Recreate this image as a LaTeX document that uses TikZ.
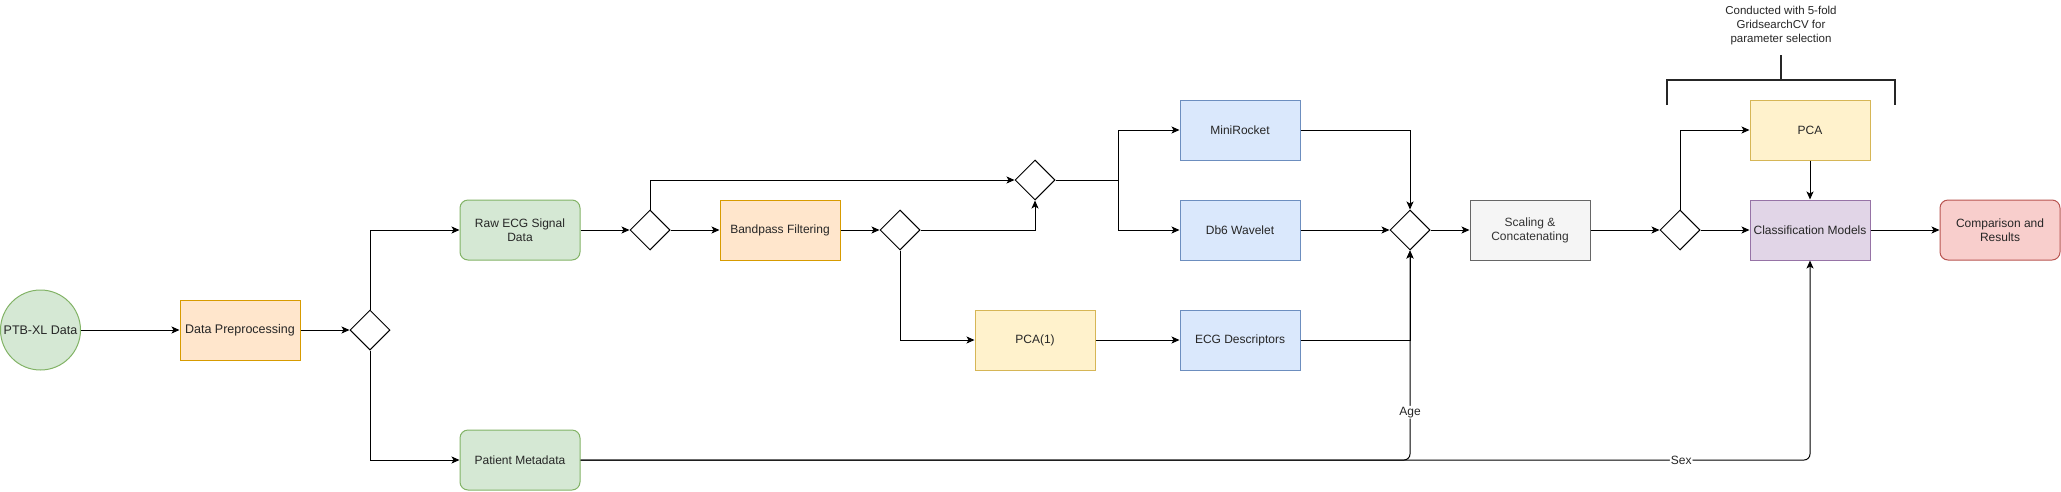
\documentclass[tikz,border=0pt]{standalone}
\usepackage{fontspec}
\setmainfont{Liberation Sans}
\usetikzlibrary{shapes.geometric,arrows.meta,calc}
\definecolor{gfill}{HTML}{D5E8D4}\definecolor{gline}{HTML}{82B366}
\definecolor{ofill}{HTML}{FFE6CC}\definecolor{oline}{HTML}{D79B00}
\definecolor{bfill}{HTML}{DAE8FC}\definecolor{bline}{HTML}{6C8EBF}
\definecolor{yfill}{HTML}{FFF2CC}\definecolor{yline}{HTML}{D6B656}
\definecolor{kfill}{HTML}{F5F5F5}\definecolor{kline}{HTML}{666666}\definecolor{ktext}{HTML}{333333}
\definecolor{pfill}{HTML}{E1D5E7}\definecolor{pline}{HTML}{9673A6}
\definecolor{rfill}{HTML}{F8CECC}\definecolor{rline}{HTML}{B85450}
\begin{document}
\begin{tikzpicture}[x=1pt,y=-1pt,
  txt/.style={font=\fontsize{12}{14}\selectfont, text=black!85},
  box/.style={txt, draw, line width=1pt, minimum width=120pt, minimum height=60pt, inner sep=2pt, align=center},
  rbox/.style={box, rounded corners=8pt},
  green/.style={fill=gfill, draw=gline},
  orange/.style={fill=ofill, draw=oline},
  blue/.style={fill=bfill, draw=bline},
  yellow/.style={fill=yfill, draw=yline},
  grey/.style={fill=kfill, draw=kline, text=ktext},
  purple/.style={fill=pfill, draw=pline},
  red/.style={fill=rfill, draw=rline},
  gate/.style={diamond, draw, fill=white, line width=1pt, minimum width=40pt, minimum height=40pt, inner sep=0pt, aspect=1},
  conn/.style={line width=1pt, -{Stealth[length=8pt,width=7pt,inset=2pt]}},
  lbl/.style={txt, fill=white, inner sep=1pt}
]
\useasboundingbox (0,0) rectangle (2061,491);

% nodes
\node[txt, circle, draw=gline, fill=gfill, line width=1pt, minimum size=80pt, inner sep=0pt, font=\fontsize{12.5}{14}\selectfont] (ptb) at (40.5,330) {PTB-XL Data};
\node[box, orange, font=\fontsize{12.5}{14}\selectfont] (prep) at (240,330) {Data Preprocessing};
\node[gate] (d1) at (370,330) {};
\node[rbox, green] (raw) at (520,230) {Raw ECG Signal\\Data};
\node[rbox, green] (meta) at (520,460) {Patient Metadata};
\node[gate] (d2) at (650,230) {};
\node[box, orange] (band) at (780,230) {Bandpass Filtering};
\node[gate] (d3) at (900,230) {};
\node[gate] (d4) at (1035,180) {};
\node[box, yellow] (pca1) at (1035,340) {PCA(1)};
\node[box, blue] (mini) at (1240,130) {MiniRocket};
\node[box, blue] (db6) at (1240,230) {Db6 Wavelet};
\node[box, blue] (desc) at (1240,340) {ECG Descriptors};
\node[gate] (d5) at (1410,230) {};
\node[box, grey] (scale) at (1530,230) {Scaling \&\\Concatenating};
\node[gate] (d6) at (1680,230) {};
\node[box, yellow] (pca) at (1810,130) {PCA};
\node[box, purple] (cls) at (1810,230) {Classification Models};
\node[rbox, red] (comp) at (2000,230) {Comparison and\\Results};
\node[txt, align=center, font=\fontsize{11.5}{14}\selectfont] (note) at (1781,26) {Conducted with 5-fold\\GridsearchCV for\\parameter selection};
\coordinate (br) at (1118,180);

% connectors
\draw[conn] (ptb) -- (prep);
\draw[conn] (prep) -- (d1);
\draw[conn] (d1.north) |- (raw.west);
\draw[conn] (d1.south) |- (meta.west);
\draw[conn] (raw) -- (d2);
\draw[conn] (d2) -- (band);
\draw[conn] (d2.north) |- (d4.west);
\draw[conn] (band) -- (d3);
\draw[conn] (d3.east) -| (d4.south);
\draw[conn] (d3.south) |- (pca1.west);
\draw[line width=1pt] (d4.east) -- (br);
\draw[conn] (br) |- (mini.west);
\draw[conn] (br) |- (db6.west);
\draw[conn] (pca1) -- (desc);
\draw[conn] (mini.east) -| (d5.north);
\draw[conn] (db6) -- (d5);
\draw[conn] (desc.east) -| (d5.south);
\draw[conn, rounded corners=6pt] (meta.east) -| node[lbl, pos=0.614] {Age} (d5.south);
\draw[conn, rounded corners=6pt] (meta.east) -| node[lbl, pos=0.4476] {Sex} (cls.south);
\draw[conn] (d5) -- (scale);
\draw[conn] (scale) -- (d6);
\draw[conn] (d6) -- (cls);
\draw[conn] (d6.north) |- (pca.west);
\draw[conn] (pca) -- (cls);
\draw[conn] (cls) -- (comp);

% bracket
\draw[line width=2pt, black!85] (1667,105) -- (1667,80) -- (1895,80) -- (1895,105);
\draw[line width=2pt, black!85] (1781,80) -- (1781,55);
\end{tikzpicture}
\end{document}
